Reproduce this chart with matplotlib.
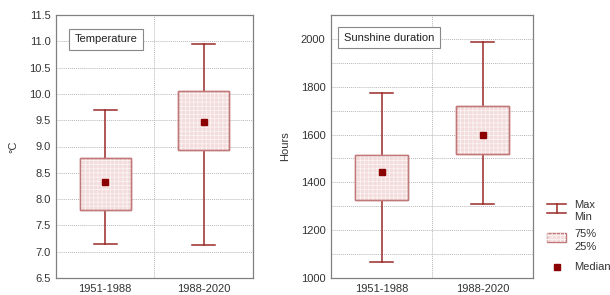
import matplotlib
matplotlib.use("Agg")
import matplotlib.pyplot as plt
from matplotlib.patches import Rectangle
from matplotlib.lines import Line2D

plt.rcParams['font.family'] = ['Liberation Sans', 'DejaVu Sans']
plt.rcParams['hatch.linewidth'] = 0.6

periods = ["1951-1988", "1988-2020"]
temp_min = [7.15, 7.13]
temp_q1 = [7.80, 8.93]
temp_med = [8.32, 9.47]
temp_q3 = [8.78, 10.06]
temp_max = [9.70, 10.95]

sun_min = [1068, 1310]
sun_q1 = [1325, 1518]
sun_med = [1445, 1600]
sun_q3 = [1515, 1720]
sun_max = [1772, 1988]

LINE = '#9b2a2a'
BOXEDGE = '#c07878'
FILL = '#f3dcdc'
HATCH = '#fbf3f3'
MED = '#8b0000'
GRID = '#b8b8b8'
SPINE = '#808080'

fig = plt.figure(figsize=(6.10, 2.95), dpi=100)
ax1 = fig.add_axes([56/610, 17/295, 197/610, 263/295])
ax2 = fig.add_axes([331/610, 17/295, 202/610, 263/295])


def draw(ax, mn, q1, med, q3, mx, ylim, major, minor, title, ylabel, tx, ty):
    stats = []
    for i, p in enumerate(periods):
        stats.append(dict(label=p, whislo=mn[i], q1=q1[i], med=med[i],
                          q3=q3[i], whishi=mx[i], fliers=[]))
    pos = [1, 2]
    res = ax.bxp(stats, positions=pos, widths=0.52, patch_artist=True,
                 showfliers=False, capwidths=0.23,
                 boxprops=dict(facecolor=FILL, edgecolor=BOXEDGE, linewidth=1.0),
                 whiskerprops=dict(color=LINE, linewidth=1.1),
                 capprops=dict(color=LINE, linewidth=1.1),
                 medianprops=dict(linewidth=0))
    for b in res['boxes']:
        b.set_zorder(3)
        verts = b.get_path().vertices
        x0, x1 = verts[:, 0].min(), verts[:, 0].max()
        y0, y1 = verts[:, 1].min(), verts[:, 1].max()
        r = Rectangle((x0, y0), x1 - x0, y1 - y0, facecolor='none',
                      edgecolor=HATCH, hatch='++++', linewidth=0, zorder=3.5)
        ax.add_patch(r)
        r2 = Rectangle((x0, y0), x1 - x0, y1 - y0, facecolor='none',
                       edgecolor=BOXEDGE, linewidth=1.0, zorder=3.6)
        ax.add_patch(r2)
    ax.plot(pos, med, 's', color=MED, markersize=4.3, zorder=5)
    ax.set_xlim(0.5, 2.5)
    ax.set_ylim(*ylim)
    ax.set_yticks(major)
    ax.set_yticks(minor, minor=True)
    ax.set_xticks(pos)
    ax.set_xticklabels(periods)
    ax.grid(True, which='both', axis='y', color=GRID, linestyle=(0, (1, 1)), linewidth=0.7, zorder=0)
    ax.axvline(1.5, color=GRID, linestyle=(0, (1, 1)), linewidth=0.7, zorder=0)
    ax.tick_params(axis='both', which='both', length=0, labelsize=8, colors='#333333', pad=4)
    for s in ax.spines.values():
        s.set_color(SPINE)
        s.set_linewidth(0.9)
    ax.set_axisbelow(True)
    ax.set_ylabel(ylabel, fontsize=8, color='#333333')
    ax.text(tx, ty, title, transform=ax.transAxes, fontsize=8, color='#222222',
            va='center', ha='left', zorder=6,
            bbox=dict(boxstyle='square,pad=0.5', facecolor='white', edgecolor='#888888', linewidth=0.8))


draw(ax1, temp_min, temp_q1, temp_med, temp_q3, temp_max, (6.5, 11.5),
     [6.5 + 0.5 * i for i in range(11)], [], "Temperature", "°C", 0.094, 0.907)
ax1.set_yticklabels([f"{6.5 + 0.5 * i:.1f}" for i in range(11)])
draw(ax2, sun_min, sun_q1, sun_med, sun_q3, sun_max, (1000, 2100),
     [1000, 1200, 1400, 1600, 1800, 2000], [1100, 1300, 1500, 1700, 1900],
     "Sunshine duration", "Hours", 0.064, 0.914)
ax1.yaxis.set_label_coords(-0.19, 0.5)
ax2.yaxis.set_label_coords(-0.2, 0.5)

# legend panel
lax = fig.add_axes([0, 0, 1, 1], facecolor='none')
lax.set_xlim(0, 610)
lax.set_ylim(295, 0)
lax.axis('off')
cx = 556.5
lax.add_line(Line2D([cx, cx], [203.5, 212.5], color=LINE, lw=1.1))
lax.add_line(Line2D([547, 566], [203.5, 203.5], color=LINE, lw=1.1))
lax.add_line(Line2D([547, 566], [212.5, 212.5], color=LINE, lw=1.1))
lax.text(574, 205, "Max", fontsize=8, va='center', color='#333333')
lax.text(574, 217, "Min", fontsize=8, va='center', color='#333333')
lax.add_patch(Rectangle((547, 233), 19, 9, facecolor=FILL, edgecolor=BOXEDGE, lw=1.0))
lax.add_patch(Rectangle((547, 233), 19, 9, facecolor='none', edgecolor=HATCH, hatch='++++', lw=0))
lax.text(574, 234, "75%", fontsize=8, va='center', color='#333333')
lax.text(574, 247.5, "25%", fontsize=8, va='center', color='#333333')
lax.plot([cx], [267], 's', color=MED, markersize=4.3)
lax.text(574, 267, "Median", fontsize=8, va='center', color='#333333')

fig.savefig("out.png", dpi=100)
